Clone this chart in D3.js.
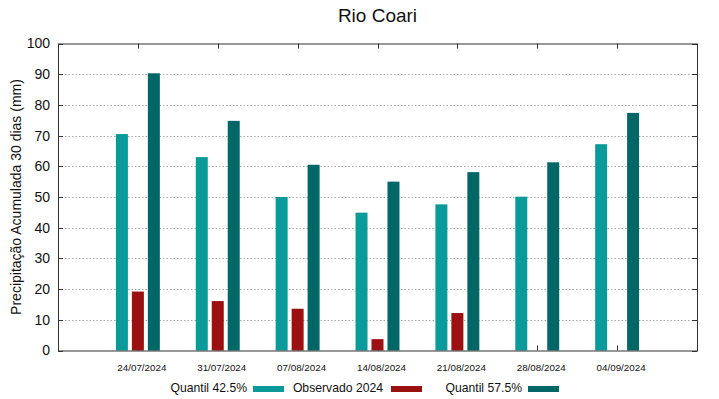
<!DOCTYPE html>
<html>
<head>
<meta charset="utf-8">
<script src="https://cdn.jsdelivr.net/npm/d3@7"></script>
<style>
  body { margin: 0; background: #fff; }
  text { font-family: "Liberation Sans", Arial, sans-serif; fill: #111; }
</style>
</head>
<body>
<div id="chart"></div>
<script>
// data
var datas = ["24/07/2024", "31/07/2024", "07/08/2024", "14/08/2024", "21/08/2024", "28/08/2024", "04/09/2024"];
var quantil425 = [70.5, 63.0, 50.0, 44.9, 47.6, 50.1, 67.2];
var observado = [19.2, 16.1, 13.6, 3.7, 12.2, null, null];
var quantil575 = [90.3, 74.8, 60.5, 55.0, 58.1, 61.3, 77.4];
var yTicks = [0, 10, 20, 30, 40, 50, 60, 70, 80, 90, 100];

var w = 719, h = 399;
var mLeft = 58, mRight = 697, mTop = 43.5, mBottom = 350.5;

var svg = d3.select("#chart").append("svg")
  .attr("width", w).attr("height", h);

// x as index scale, one slot left empty before the first date
var x = d3.scaleLinear().domain([-1, 7]).range([mLeft, mRight]);
var y = d3.scaleLinear().domain([0, 100]).range([mBottom, mTop]);

// grid
svg.append("g").selectAll("line")
  .data(yTicks.filter(function(d) { return d > 0 && d < 100; }))
  .enter().append("line")
  .attr("x1", mLeft).attr("x2", mRight)
  .attr("y1", function(d) { return Math.round(y(d)) + 0.5; })
  .attr("y2", function(d) { return Math.round(y(d)) + 0.5; })
  .attr("stroke", "#a8a8a8")
  .attr("stroke-width", 1)
  .attr("stroke-dasharray", "1.5,2");

// ticks (inward, mirrored) - drawn under the bars
var tk = svg.append("g").attr("stroke", "#333").attr("stroke-width", 1);
yTicks.forEach(function(t) {
  var yy = Math.round(y(t)) + 0.5;
  tk.append("line").attr("x1", mLeft).attr("x2", mLeft + 5).attr("y1", yy).attr("y2", yy);
  tk.append("line").attr("x1", mRight - 5).attr("x2", mRight).attr("y1", yy).attr("y2", yy);
});
datas.forEach(function(d, i) {
  var xx = Math.round(x(i)) + 0.5;
  tk.append("line").attr("x1", xx).attr("x2", xx).attr("y1", mTop).attr("y2", mTop + 5);
  tk.append("line").attr("x1", xx).attr("x2", xx).attr("y1", mBottom - 5).attr("y2", mBottom);
});

var series = [
  { nome: "Quantil 42.5%", vals: quantil425, cor: "#0a9a9a", off: -0.2 },
  { nome: "Observado 2024", vals: observado, cor: "#9b1010", off: 0 },
  { nome: "Quantil 57.5%", vals: quantil575, cor: "#006666", off: 0.2 }
];
var bw = x(0.15) - x(0);

series.forEach(function(s) {
  svg.append("g").selectAll("rect")
    .data(s.vals.map(function(v, i) { return { i: i, v: v }; })
      .filter(function(d) { return d.v != null; }))
    .enter().append("rect")
    .attr("x", function(d) { return x(d.i + s.off) - bw / 2; })
    .attr("width", bw)
    .attr("y", function(d) { return y(d.v); })
    .attr("height", function(d) { return y(0) - y(d.v); })
    .attr("fill", s.cor);
});

// border
svg.append("rect")
  .attr("x", mLeft + 0.5).attr("y", mTop + 0.5)
  .attr("width", mRight - mLeft).attr("height", mBottom - mTop)
  .attr("fill", "none").attr("stroke", "#333").attr("stroke-width", 1);

// y labels
svg.append("g").selectAll("text")
  .data(yTicks).enter().append("text")
  .attr("x", mLeft - 8)
  .attr("y", function(d) { return y(d); })
  .attr("dy", "0.35em")
  .attr("text-anchor", "end")
  .style("font-size", "14px")
  .text(function(d) { return d; });

// x labels
svg.append("g").selectAll("text")
  .data(datas).enter().append("text")
  .attr("x", function(d, i) { return x(i) + 4; })
  .attr("y", 371)
  .attr("text-anchor", "middle")
  .style("font-size", "9.8px")
  .text(function(d) { return d; });

// title
svg.append("text")
  .attr("x", (mLeft + mRight) / 2).attr("y", 22)
  .attr("text-anchor", "middle")
  .style("font-size", "19px")
  .text("Rio Coari");

// y axis title
svg.append("text")
  .attr("transform", "translate(21," + ((mTop + mBottom) / 2) + ") rotate(-90)")
  .attr("text-anchor", "middle")
  .style("font-size", "14px")
  .text("Precipitação Acumulada 30 dias (mm)");

// legend
var leg = [
  { textX: 247, swX: 253 },
  { textX: 383, swX: 391 },
  { textX: 522, swX: 528 }
];
series.forEach(function(s, i) {
  svg.append("text")
    .attr("x", leg[i].textX).attr("y", 392)
    .attr("text-anchor", "end")
    .style("font-size", "12.2px")
    .text(s.nome);
  svg.append("rect")
    .attr("x", leg[i].swX).attr("y", 386)
    .attr("width", 31).attr("height", 6)
    .attr("fill", s.cor);
});
</script>
</body>
</html>
